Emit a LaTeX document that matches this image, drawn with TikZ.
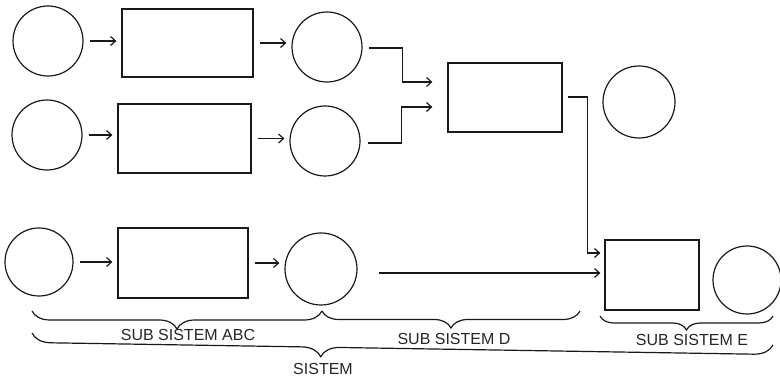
\documentclass[tikz,border=0pt]{standalone}
\usepackage{fontspec}
\newfontfamily\lblfont{Liberation Sans}
\usetikzlibrary{arrows.meta,decorations.pathreplacing,calc}
\begin{document}
\begin{tikzpicture}[x=1pt,y=-1pt,
  ln/.style={line width=1.2pt, draw=black!90},
  circ/.style={ln, circle, inner sep=0pt},
  box/.style={ln, rectangle, inner sep=0pt},
  tip/.style={-{Straight Barb[length=5pt,width=9pt]}},
  arr/.style={ln, tip, shorten <=6pt, shorten >=5pt},
  link/.style={ln, tip},
  brc/.style={draw=black!90, line width=1.2pt, decorate, decoration={brace,mirror,amplitude=#1}},
  lbl/.style={font=\lblfont\fontsize{16}{18}\selectfont, inner sep=0pt, text=black!85}]
\fill[white] (0,0) rectangle (780,379);
\useasboundingbox (0,0) rectangle (780,379);

% row 1
\node[circ, minimum size=70pt] (c11) at (48,41) {};
\node[box, minimum width=131pt, minimum height=68pt] (r11) at (187.5,43) {};
\node[circ, minimum size=70pt] (c12) at (327,47) {};
% row 2
\node[circ, minimum size=70pt] (c21) at (47,135) {};
\node[box, minimum width=133pt, minimum height=69pt] (r21) at (184.5,138.5) {};
\node[circ, minimum size=70pt] (c22) at (325,141) {};
% row 3
\node[circ, minimum size=68pt] (c31) at (39,262) {};
\node[box, minimum width=130pt, minimum height=70pt] (r31) at (183,263) {};
\node[circ, minimum size=72pt] (c32) at (321,269) {};
% subsystem D and E
\node[box, minimum width=114pt, minimum height=69pt] (rD) at (505,97.5) {};
\node[circ, minimum size=72pt] (cE1) at (639,102) {};
\node[box, minimum width=94pt, minimum height=70pt] (rE) at (652,275) {};
\node[circ, minimum size=68pt] (cE2) at (747,280) {};

% row arrows
\draw[arr] (c11.east) -- (c11.east -| r11.west);
\draw[arr] (r11.east) -- (r11.east -| c12.west);
\draw[arr] (c21.east) -- (c21.east -| r21.west);
\draw[arr] (r21.east) -- (r21.east -| c22.west);
\draw[arr] (c31.east) -- (c31.east -| r31.west);
\draw[arr] (r31.east) -- (r31.east -| c32.west);

% links to D and E
\draw[link] ([shift={(6,1)}]c12.east) -| ([shift={(-45,-15.5)}]rD.west) -- ([shift={(-15,-15.5)}]rD.west);
\draw[link] ([shift={(7,2)}]c22.east) -| ([shift={(-46,9.5)}]rD.west) -- ([shift={(-15,9.5)}]rD.west);
\draw[link] ([shift={(5,-0.5)}]rD.east) -| ([shift={(-17,-22)}]rE.west) -- ([shift={(-4,-22)}]rE.west);
\draw[link] ([shift={(21,4)}]c32.east) -- ([shift={(-4,-2)}]rE.west);

% braces
\coordinate (bA1) at (32,311);
\coordinate (bA2) at (322,311);
\coordinate (bD2) at (580,311);
\coordinate (bE1) at (600,316);
\coordinate (bE2) at (773,316);
\coordinate (bS1) at (32,333);
\coordinate (bS2) at (773,345);
\draw[brc=18pt] (bA1) -- (bA2);
\draw[brc=17pt] (bA2) -- (bD2);
\draw[brc=14pt] (bE1) -- (bE2);
\draw[brc=19pt, decoration={aspect=0.39}] (bS1) -- (bS2);

% labels
\node[lbl] (tA) at (188,335) {SUB SISTEM ABC};
\node[lbl] (tD) at (454,339) {SUB SISTEM D};
\node[lbl] (tE) at (692,340) {SUB SISTEM E};
\node[lbl] (tS) at (323,369) {SISTEM};
\end{tikzpicture}
\end{document}
